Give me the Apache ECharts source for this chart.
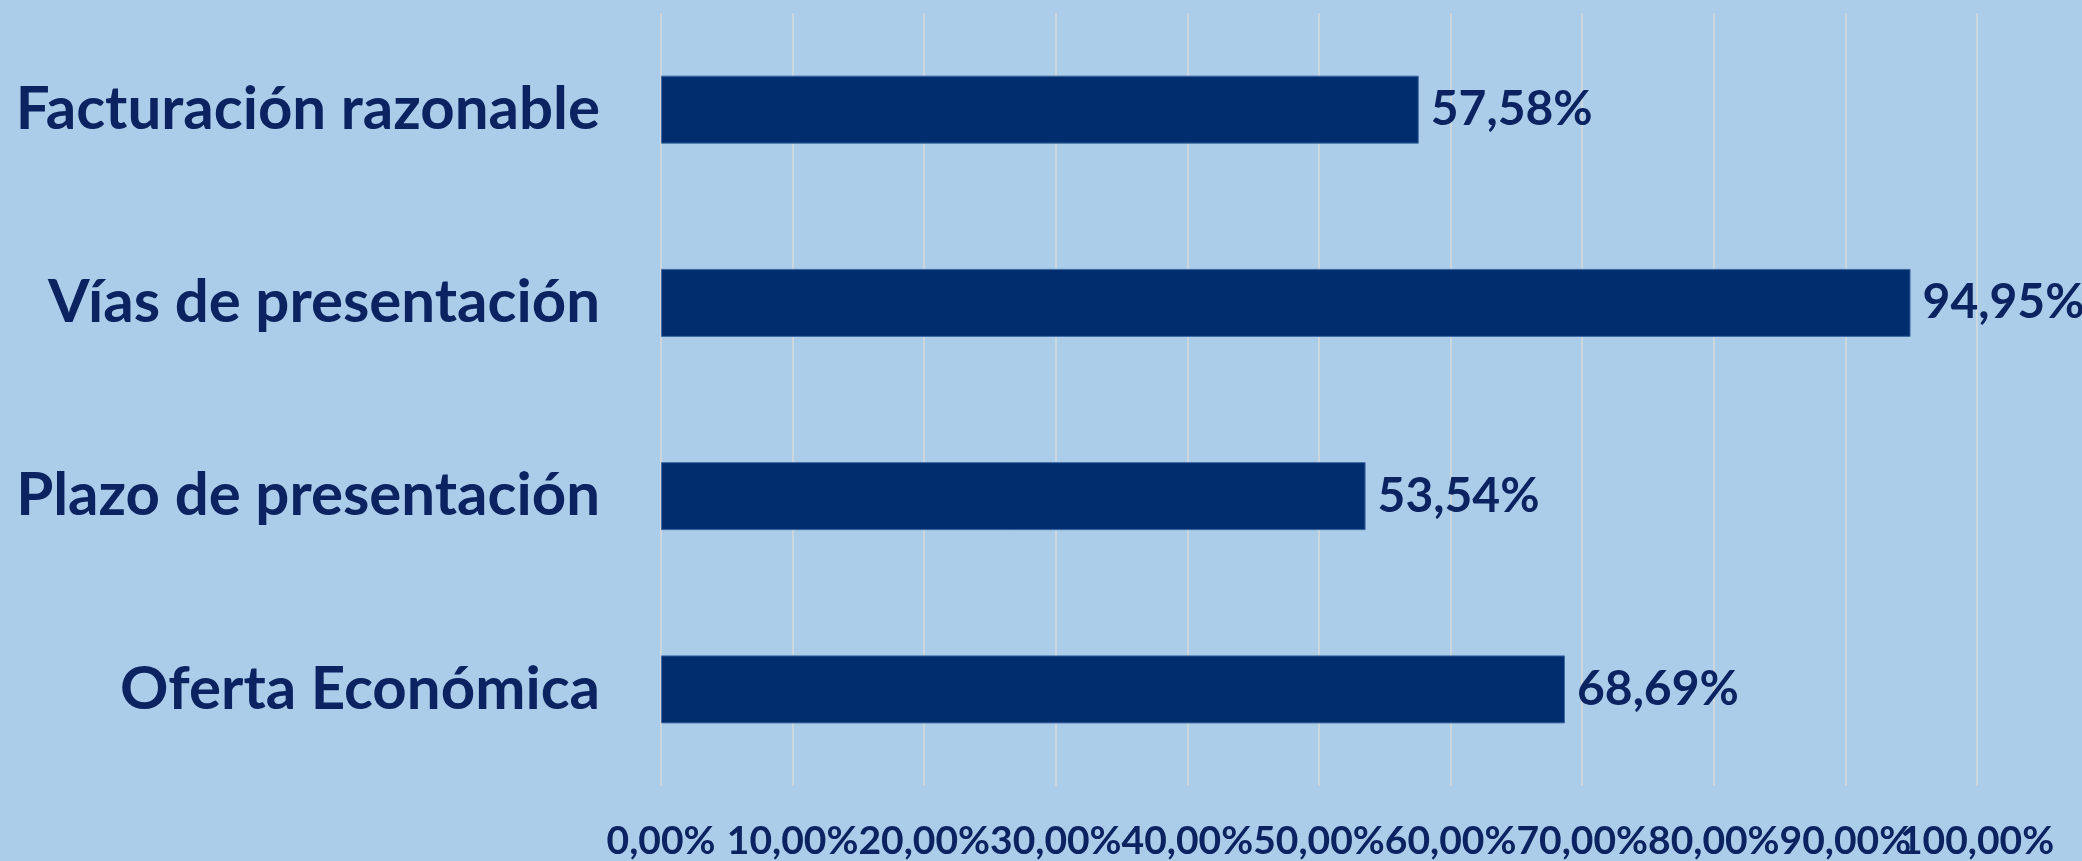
<!DOCTYPE html>
<html>
<head>
<meta charset="utf-8">
<script src="https://cdn.jsdelivr.net/npm/echarts@6/dist/echarts.min.js"></script>
<style>
  html, body { margin: 0; padding: 0; background: #abcdea; }
  #chart { width: 2082px; height: 861px; }
</style>
</head>
<body>
<div id="chart"></div>
<script type="text/javascript">
	// datos
	var categories = [ "Facturación razonable", "Vías de presentación", "Plazo de presentación", "Oferta Económica" ];
	var values = [ 57.58, 94.95, 53.54, 68.69 ];
	var axisMin = 0, axisMax = 100, axisStep = 10;

	function pct(v) {
		return v.toFixed(2).replace('.', ',') + '%';
	}

	var textColor = '#0b2461';
	var fontName = 'Lato';

	var tickLabel = {
		margin : 36,
		hideOverlap : false,
		color : textColor,
		fontFamily : fontName,
		fontWeight : 'bold',
		fontSize : 39
	};

	var option = {
		backgroundColor : '#abcdea',
		animation : false,
		grid : {
			left : 661,
			right : 105,
			top : 13,
			bottom : 75
		},
		xAxis : [ {
			type : 'value',
			min : axisMin,
			max : axisMax,
			interval : axisStep,
			axisLine : { show : false },
			axisTick : { show : false },
			splitLine : {
				show : true,
				lineStyle : { color : '#d9d9d9', width : 1.5 }
			},
			axisLabel : Object.assign({}, tickLabel, {
				showMinLabel : true,
				showMaxLabel : false,
				formatter : function(v) { return pct(v); }
			})
		}, {
			// solo la etiqueta 100,00% (para que no se oculte la de 90,00%)
			type : 'value',
			position : 'bottom',
			min : axisMin,
			max : axisMax,
			interval : axisStep,
			axisLine : { show : false },
			axisTick : { show : false },
			splitLine : { show : false },
			axisLabel : Object.assign({}, tickLabel, {
				showMinLabel : true,
				showMaxLabel : true,
				formatter : function(v) { return v === axisMax ? pct(v) : ''; }
			})
		} ],
		yAxis : {
			type : 'category',
			inverse : true,
			data : categories,
			axisLine : { show : false },
			axisTick : { show : false },
			axisLabel : {
				margin : 61,
				padding : [ 16, 0, 0, 0 ],
				color : textColor,
				fontFamily : fontName,
				fontWeight : 'bold',
				fontSize : 60
			}
		},
		series : [ {
			type : 'bar',
			xAxisIndex : 0,
			data : values,
			barWidth : 68,
			itemStyle : {
				color : '#002d6e',
				borderColor : '#3d6aa3',
				borderWidth : 1
			},
			label : {
				show : true,
				position : 'right',
				distance : 12,
				padding : [ 12, 0, 0, 0 ],
				color : textColor,
				fontFamily : fontName,
				fontWeight : 'bold',
				fontSize : 48,
				formatter : function(p) { return pct(p.value); }
			}
		} ]
	};

	var chart = echarts.init(document.getElementById('chart'));
	chart.setOption(option);
</script>
</body>
</html>
